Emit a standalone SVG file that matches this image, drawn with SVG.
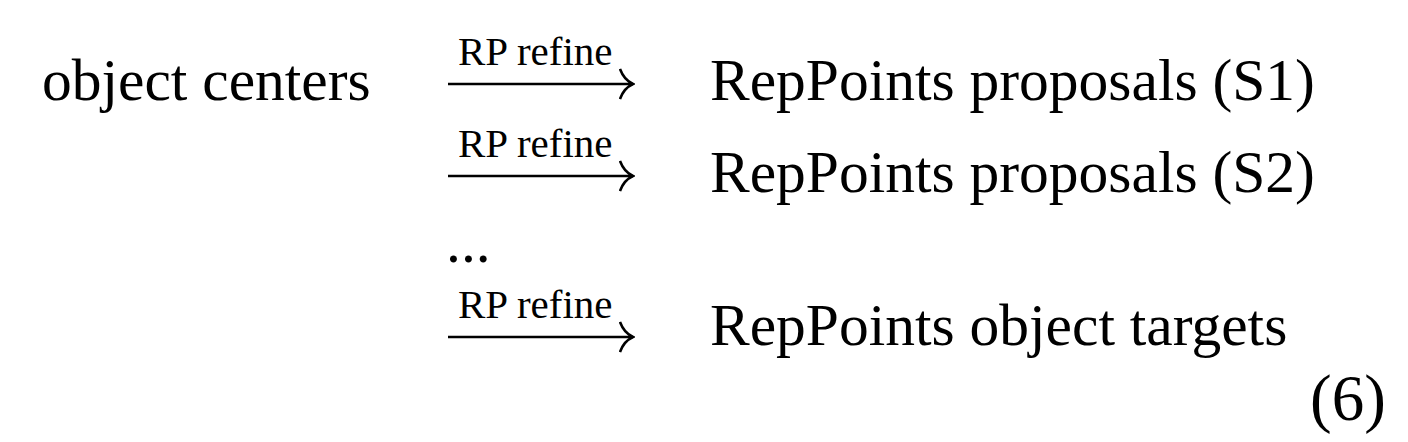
<svg xmlns="http://www.w3.org/2000/svg" width="1408" height="442" viewBox="0 0 1408 442">
<style>
.t{font-family:"Liberation Serif","Times New Roman",serif;font-size:59.5px;fill:#000}
.n{font-family:"Liberation Serif","Times New Roman",serif;font-size:65px;fill:#000}
.l{font-family:"Liberation Serif","Times New Roman",serif;font-size:41px;fill:#000}
.a{stroke:#000;stroke-width:2.4;fill:none}
</style>
<defs>
<marker id="hook" viewBox="0 0 16 34" refX="14" refY="17" markerWidth="16" markerHeight="34" markerUnits="userSpaceOnUse" orient="auto">
<path d="M1,2 Q5,13 14,17 Q5,21 1,32" stroke="#000" stroke-width="2.6" fill="none"/>
</marker>
</defs>
<rect width="1408" height="442" fill="#fff"/>
<g id="node-object-centers"><text class="t" x="42" y="100">object centers</text></g>
<g id="node-s1"><text class="t" x="710" y="100">RepPoints proposals (S1)</text></g>
<g id="node-s2"><text class="t" x="710" y="192">RepPoints proposals (S2)</text></g>
<g id="node-ellipsis"><text class="t" x="446" y="262">...</text></g>
<g id="node-targets"><text class="t" x="710" y="345">RepPoints object targets</text></g>
<g id="eq-number"><text class="n" x="1310" y="420">(6)</text></g>
<g id="connectors">
<path class="a" d="M448,84 H633" marker-end="url(#hook)"/>
<text class="l" x="458" y="65">RP refine</text>
<path class="a" d="M448,176 H633" marker-end="url(#hook)"/>
<text class="l" x="458" y="157">RP refine</text>
<path class="a" d="M448,337 H633" marker-end="url(#hook)"/>
<text class="l" x="458" y="318">RP refine</text>
</g>
</svg>
